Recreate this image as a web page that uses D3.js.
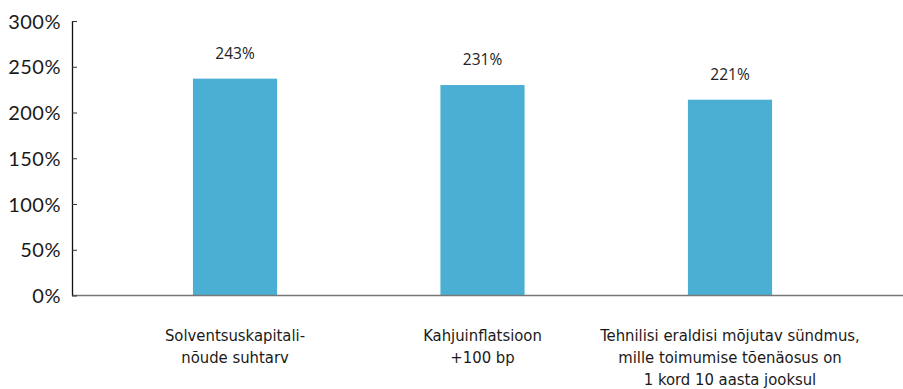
<!DOCTYPE html>
<html><head><meta charset="utf-8">
<script src="https://cdn.jsdelivr.net/npm/d3@7"></script>
<style>body{margin:0;background:#fff}svg{display:block}</style>
</head><body>
<svg id="c" width="903" height="389"></svg>
<script>
const categories = [
  ["Solventsuskapitali-", "nõude suhtarv"],
  ["Kahjuinflatsioon", "+100 bp"],
  ["Tehnilisi eraldisi mõjutav sündmus,", "mille toimumise tõenäosus on", "1 kord 10 aasta jooksul"]
];
const values = [237, 230, 214];
const valueLabels = ["243%", "231%", "221%"];
const yTicks = [0, 50, 100, 150, 200, 250, 300];

const svg = d3.select("#c");
const x = d3.scaleBand().domain(d3.range(categories.length))
  .range([111.25, 853.75]).paddingInner(0.66).paddingOuter(0.33);
const y = d3.scaleLinear().domain([0, 300]).range([295.5, 21]);

// bars
svg.selectAll("rect.bar").data(values).join("rect")
  .attr("class", "bar")
  .attr("x", (d, i) => x(i)).attr("width", x.bandwidth())
  .attr("y", d => y(d)).attr("height", d => y(0) - y(d))
  .attr("fill", "#4bafd3");

// value labels
svg.selectAll("text.vl").data(values).join("text")
  .attr("class", "vl")
  .attr("x", (d, i) => x(i) + x.bandwidth() / 2)
  .attr("y", d => y(d) - 20)
  .attr("text-anchor", "middle")
  .attr("font-family", "'Open Sans', sans-serif").attr("font-size", 15.5)
  .attr("fill", "#222")
  .text((d, i) => valueLabels[i]);

// x axis line
svg.append("line").attr("x1", 72).attr("x2", 903)
  .attr("y1", y(0)).attr("y2", y(0))
  .attr("stroke", "#777").attr("stroke-width", 1.5);

// y axis
const yAxis = d3.axisRight(y).tickValues(yTicks).tickSize(5).tickFormat(d => d + "%");
const gy = svg.append("g").attr("transform", "translate(72,0)").call(yAxis);
gy.select(".domain").attr("d", `M0.5,${y(300)}V${y(0)}`).attr("stroke", "#111").attr("stroke-width", 1.3);
gy.selectAll(".tick line").attr("stroke", "#333");
gy.selectAll(".tick text").attr("x", -11).attr("text-anchor", "end")
  .attr("font-family", "Lato, sans-serif").attr("font-size", 20).attr("fill", "#1a1a1a")
  .attr("letter-spacing", 0.5)
  .attr("dy", "0.35em");

// category labels
const cg = svg.selectAll("text.cat").data(categories).join("text")
  .attr("class", "cat")
  .attr("text-anchor", "middle")
  .attr("font-family", "'Liberation Sans Narrow', 'DejaVu Sans Condensed', sans-serif")
  .attr("font-size", 16.5).attr("fill", "#1a1a1a");
cg.selectAll("tspan").data((d, i) => d.map(t => ({t, i}))).join("tspan")
  .attr("x", d => x(d.i) + x.bandwidth() / 2)
  .attr("y", (d, j) => 341 + j * 22)
  .text(d => d.t);
</script>
</body></html>
